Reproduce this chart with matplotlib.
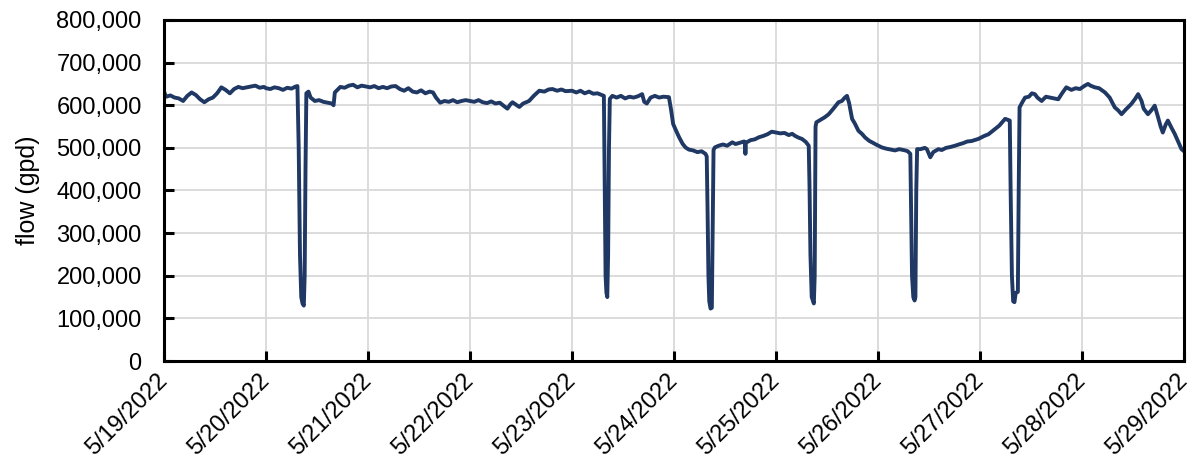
import datetime as dt
import matplotlib
matplotlib.use("Agg")
import matplotlib.pyplot as plt
import matplotlib.dates as mdates
from matplotlib.ticker import FuncFormatter, MultipleLocator

plt.rcParams['font.family'] = ['Liberation Sans', 'DejaVu Sans']

# hours after 5/19/2022 00:00, and flow in thousands of gpd
hours = [
    0, 0.5, 1.5, 2.5, 3.5, 4.5, 5.5, 6.5, 7.5, 8.5, 9.5, 10.5, 11.5, 12.5, 13.5,
    14.5, 15.5, 16.5, 17.5, 18.5, 19.5, 20.5, 21.5, 22.5, 23.5, 24, 25, 26, 27,
    28, 29, 30, 31, 31.4,
    31.7, 32.0, 32.3, 32.6, 32.9, 33.1, 33.3, 33.5,
    34, 34.5, 35.5, 36.5, 37.5, 38.5, 39.5, 39.9, 40.2, 40.8, 41.5, 42.5, 43.5,
    44.5, 45.5, 46.5, 47.5, 48.5, 49.5, 50.5, 51.5, 52.5, 53.5, 54.5, 55.5,
    56.5, 57.5, 58.5, 59.5, 60.5, 61.5, 62.5, 63.3, 64, 65, 66, 67, 68, 69, 70,
    71, 72, 73, 74, 75, 76, 77, 78, 79, 80, 80.8, 81.5, 82, 83, 83.6, 84.5,
    85.9, 87, 88.3, 89.5, 90.5, 91.4, 92.5, 93.5, 94.5, 96, 97, 98, 99, 100,
    101, 102, 103, 103.5,
    103.7, 103.9, 104.1, 104.3, 104.5, 104.7, 104.9,
    105.5, 106.5, 107.5, 108.5, 109.5, 110.5, 111.5, 112.5, 113, 113.6, 114.5,
    115.5, 116.5, 117.5, 118.8, 119.3, 119.8, 120.5, 121.2, 122, 122.7, 123.5,
    124.5, 125.5, 126.5, 127.4, 127.7,
    127.9, 128.1, 128.3, 128.6, 128.9, 129.1, 129.3,
    129.6, 130.5, 131.5, 132.5, 133.7, 134.5, 135.5, 136.5, 136.7, 136.8,
    136.9, 138, 139, 140, 141, 142, 143, 144, 145, 146, 147, 147.8, 148.5,
    149.3, 150.1, 151, 151.7,
    151.9, 152.1, 152.4, 152.9, 153.1, 153.3,
    153.5, 154.5, 155.5, 156.4, 157.5, 158.7, 159.5, 160.2, 160.7, 161.2,
    161.9, 162.5, 163.4, 164.2, 165, 166, 166.6, 167.5, 168.9, 170, 171, 172,
    173, 174.4, 175, 175.6,
    175.8, 176, 176.3, 176.6, 176.8, 177, 177.2,
    178, 179, 179.5, 180.3, 181, 182.2, 183, 184, 185, 186.1, 187, 188, 189,
    190, 191.6, 193, 194, 195.5, 196.5, 197.9, 198.5, 199,
    199.2, 199.5, 199.8, 200.1, 200.4, 200.9, 201.1, 201.3,
    202, 202.6, 203.5, 204.2, 204.9, 205.5, 206.5, 207.5, 208.5, 209.5, 210.4,
    211.3, 212.3, 213.5, 214.5, 215.5, 216.5, 217.4, 218, 219, 220, 221.4,
    222.5, 223.7, 224.5, 225.3, 226.3, 227.6, 228.5, 229.2, 230, 230.5, 231.5,
    232.3, 233.1, 233.8, 234.5, 235, 235.7, 236.2, 237, 237.8, 238.6, 239.4,
    240,
]
flow_k = [
    632, 620, 623, 618, 616, 610, 622, 630, 624, 614, 607, 614, 618, 628, 642,
    636, 628, 638, 643, 640, 642, 644, 646, 641, 643, 640, 638, 642, 640,
    636, 641, 639, 644, 645,
    500, 250, 150, 135, 130, 200, 450, 628,
    632, 618, 610, 612, 608, 606, 604, 600, 630, 636, 643, 641, 646,
    648, 642, 646, 644, 642, 645, 640, 643, 640, 644, 645, 638,
    634, 640, 632, 630, 635, 628, 632, 630, 618, 606, 610, 608, 612, 607, 610,
    612, 610, 608, 612, 607, 605, 609, 604, 606, 598, 592, 602, 607, 600, 596, 604,
    610, 622, 634, 632, 637, 638, 634, 637, 633, 634, 630, 634, 628, 632,
    627, 628, 624, 622,
    400, 200, 160, 150, 250, 500, 615,
    622, 618, 622, 616, 620, 618, 621, 626, 608, 604, 618,
    622, 618, 620, 619, 590, 556, 540, 525, 510, 501, 496,
    494, 490, 492, 486, 480,
    350, 200, 140, 123, 125, 300, 495,
    501, 505, 508, 505, 513, 509, 512, 515, 512, 486,
    512, 518, 520, 525, 528, 532, 538, 536, 534, 535, 530, 533, 528,
    524, 521, 514, 505,
    400, 250, 150, 135, 200, 550,
    560, 566, 572, 579, 592, 607, 610, 618, 622, 605,
    568, 558, 540, 533, 524, 516, 513, 508, 501, 498, 496, 494,
    497, 494, 492, 486,
    350, 200, 150, 142, 150, 400, 497,
    497, 500, 497, 478, 490, 497, 495, 500, 502, 505, 508, 511, 515,
    516, 521, 528, 532, 544, 552, 568, 566, 564,
    400, 200, 140, 138, 160, 162, 400, 595,
    608, 618, 620, 628, 626, 618, 610, 620, 618, 616, 614,
    628, 642, 636, 640, 638, 645, 650, 646, 642, 640, 630,
    618, 595, 588, 579, 590, 603, 615, 626, 610, 592, 579,
    588, 599, 575, 550, 536, 555, 564, 548, 533, 515, 497,
    492,
]

start = dt.datetime(2022, 5, 19)
times = [start + dt.timedelta(hours=h) for h in hours]
flow = [v * 1000 for v in flow_k]

fig = plt.figure(figsize=(11.96, 4.68), dpi=100)
ax = fig.add_axes([0.1371, 0.2286, 0.8529, 0.7287])

ax.plot(times, flow, color='#1F3864', linewidth=2.8, solid_joinstyle='round')

ax.set_xlim(start, start + dt.timedelta(days=10))
ax.set_ylim(0, 800000)
ax.yaxis.set_major_locator(MultipleLocator(100000))
ax.yaxis.set_major_formatter(FuncFormatter(lambda v, p: f"{int(v):,}"))
ax.xaxis.set_major_locator(mdates.DayLocator())
ax.xaxis.set_major_formatter(FuncFormatter(
    lambda v, p: (lambda d: f"{d.month}/{d.day}/{d.year}")(mdates.num2date(v))))

ax.grid(True, color='#D9D9D9', linewidth=1.3)
ax.set_axisbelow(True)
for s in ax.spines.values():
    s.set_linewidth(2.2)
    s.set_color('black')
ax.tick_params(direction='in', length=7, width=2.2, labelsize=17)
ax.tick_params(axis='y', pad=16)
ax.tick_params(axis='x', pad=12)
for lab in ax.get_xticklabels():
    lab.set_rotation(45)
    lab.set_ha('right')
    lab.set_va('center')
    lab.set_rotation_mode('anchor')

ax.set_ylabel('flow (gpd)', fontsize=18, labelpad=12)

fig.savefig('out.png', dpi=100)
